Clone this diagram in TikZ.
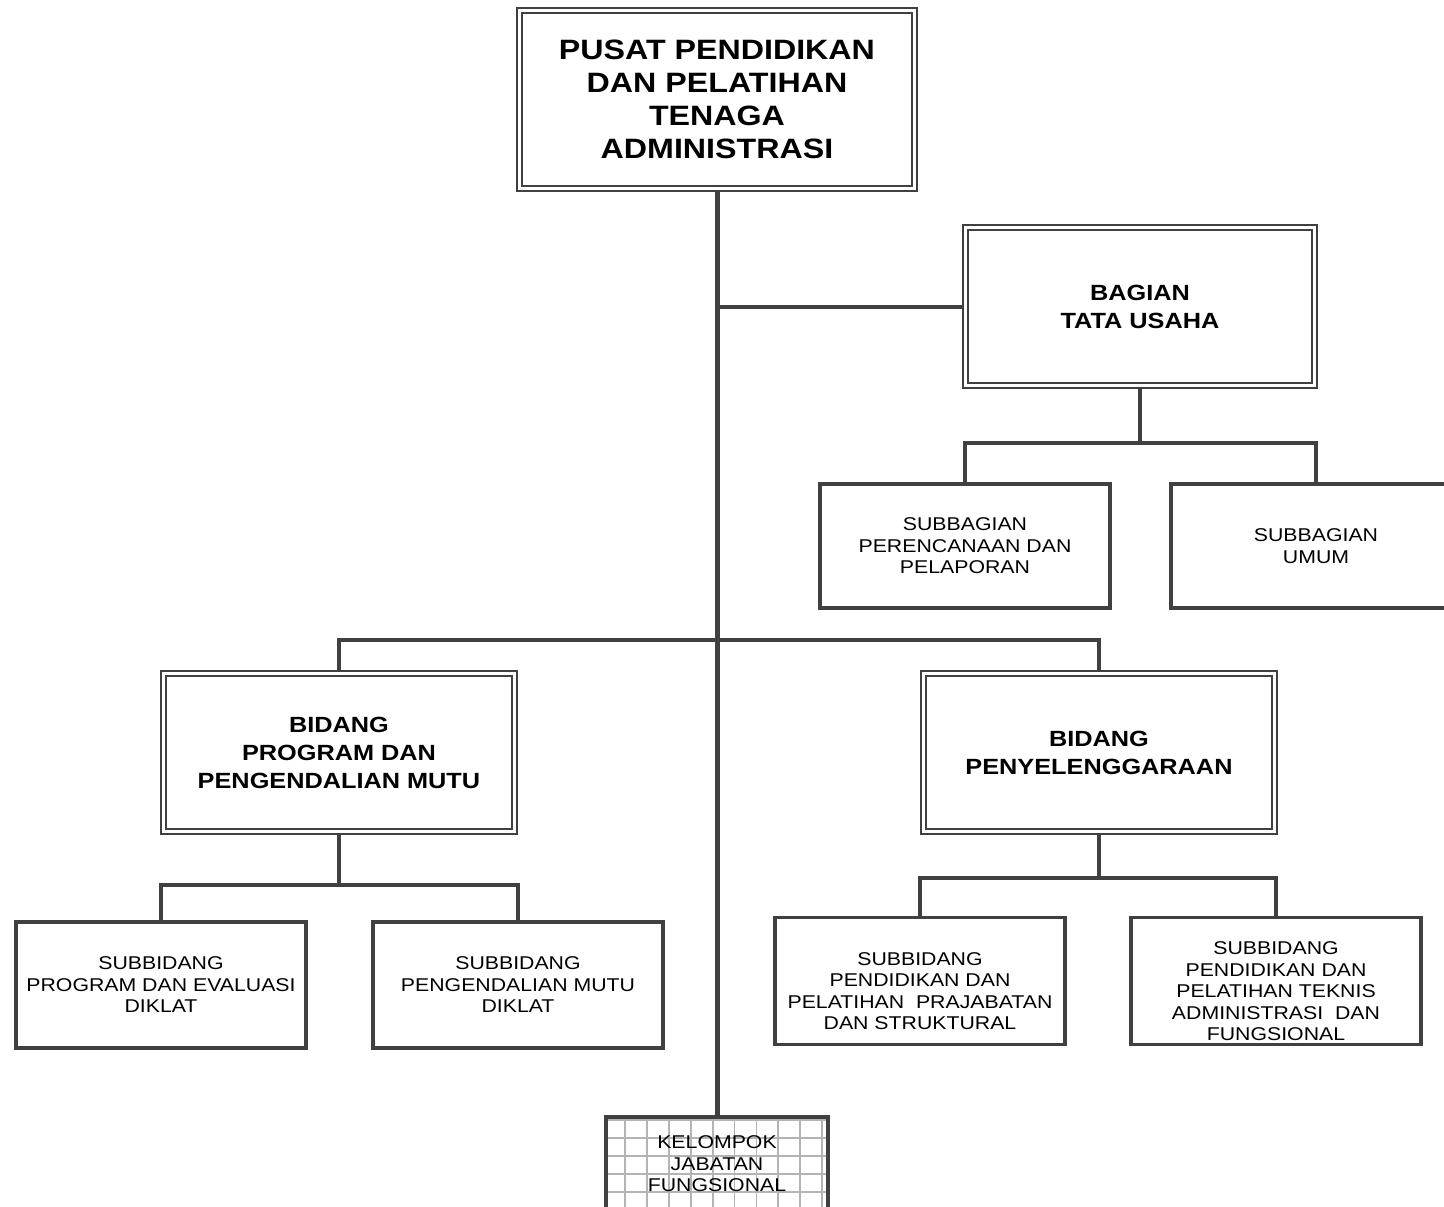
\documentclass[tikz,border=0pt]{standalone}
\usepackage{fontspec}
\setmainfont[FakeStretch=1.15]{Liberation Sans}
\definecolor{linegray}{HTML}{404040}
\definecolor{gridgray}{HTML}{B4B4B4}
\begin{document}
\begin{tikzpicture}[x=1pt, y=-1pt,
    line/.style={draw=linegray, line width=4pt},
    unit/.style={draw=linegray, line width=2.5pt, double, double distance=2.5pt, align=center, inner sep=0pt,
        minimum width=351pt, minimum height=158pt, font=\fontsize{22}{28}\selectfont\bfseries},
    subunit/.style={draw=linegray, line width=3.5pt, align=center, inner sep=0pt,
        minimum width=290pt, minimum height=126pt, font=\fontsize{18.5}{21.5}\selectfont}]
    \useasboundingbox (0,0) rectangle (1444,1207);
    \node[unit, minimum width=395pt, minimum height=178pt, font=\fontsize{28}{33}\selectfont\bfseries] (pusat) at (717,99.5)
        {PUSAT PENDIDIKAN\\DAN PELATIHAN\\TENAGA\\ADMINISTRASI};
    \node[unit, minimum width=349pt] (tu) at (1140,306.5) {BAGIAN\\TATA USAHA};
    \node[subunit, minimum height=124pt] (subper) at (965,546) {SUBBAGIAN\\PERENCANAAN DAN\\PELAPORAN};
    \node[subunit, minimum height=124pt] (subumum) at (1316,546) {SUBBAGIAN\\UMUM};
    \node[unit] (bidprog) at (339,752.5) {BIDANG\\PROGRAM DAN\\PENGENDALIAN MUTU};
    \node[unit] (bidpeny) at (1099,752.5) {BIDANG\\PENYELENGGARAAN};
    \node[subunit] (subprog) at (161,985) {SUBBIDANG\\PROGRAM DAN EVALUASI\\DIKLAT};
    \node[subunit] (subpeng) at (518,985) {SUBBIDANG\\PENGENDALIAN MUTU\\DIKLAT};
    \node[subunit, minimum height=127pt] (subpra) at (920,981) {\rule{0pt}{11.8pt}\\SUBBIDANG\\PENDIDIKAN DAN\\PELATIHAN\ \ PRAJABATAN\\DAN STRUKTURAL};
    \node[subunit, minimum height=127pt] (subtek) at (1276,981) {\rule{0pt}{11.8pt}\\SUBBIDANG\\PENDIDIKAN DAN\\PELATIHAN TEKNIS\\ADMINISTRASI\ \ DAN\\FUNGSIONAL};
    \foreach \i in {0,...,9}
        \draw[gridgray, line width=1.8pt] (625+\i*21.9,1119) -- (625+\i*21.9,1207);
    \foreach \y in {1120,1138,...,1192}
        \draw[gridgray, line width=1.8pt] (608,\y) -- (826,\y);
    \node[subunit, minimum width=222pt, minimum height=94pt, font=\fontsize{18.5}{21.5}\selectfont] (kjf) at (717,1164)
        {KELOMPOK\\JABATAN\\FUNGSIONAL};
    \coordinate (tubar) at (1140,443);
    \coordinate (bidbar) at (717,640);
    \coordinate (progbar) at (339,885);
    \coordinate (penybar) at (1099,878);
    \draw[line, line width=5pt] (pusat.south) -- (kjf.north);
    \draw[line] (tu.west) -- (tu.west -| pusat.south);
    \draw[line] (tu.south) -- (tubar);
    \draw[line] (subper.north) |- (tubar) -| (subumum.north);
    \draw[line] (bidprog.north) |- (bidbar) -| (bidpeny.north);
    \draw[line] (bidprog.south) -- (progbar);
    \draw[line] (subprog.north) |- (progbar) -| (subpeng.north);
    \draw[line] (bidpeny.south) -- (penybar);
    \draw[line] (subpra.north) |- (penybar) -| (subtek.north);
\end{tikzpicture}
\end{document}
